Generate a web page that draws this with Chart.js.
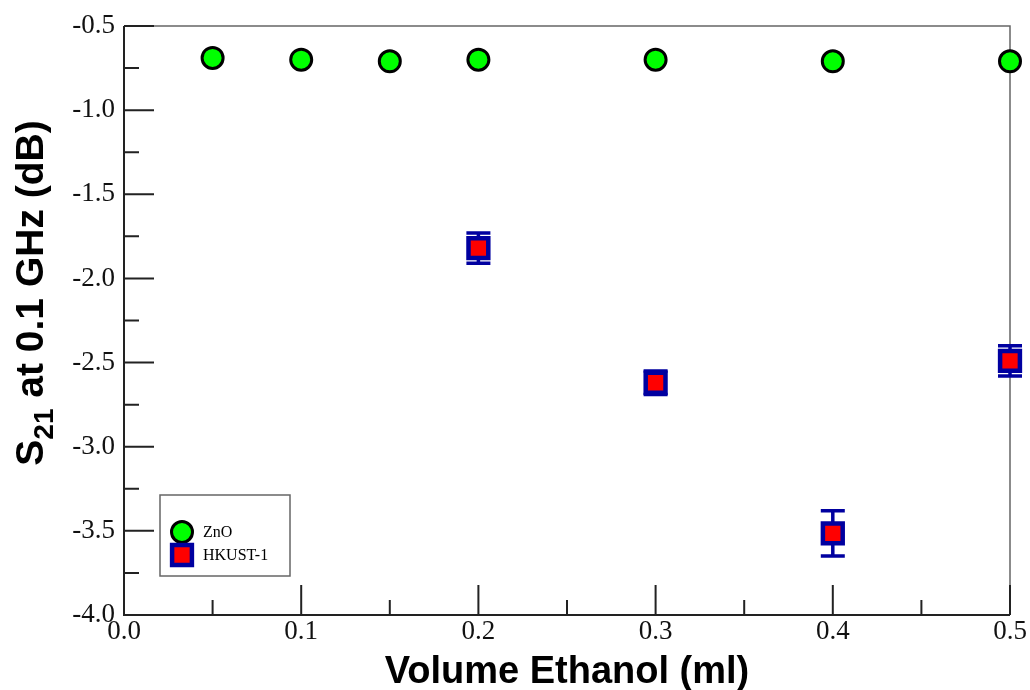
<!DOCTYPE html>
<html><head><meta charset="utf-8">
<script src="https://cdn.jsdelivr.net/npm/chart.js@4/dist/chart.umd.min.js"></script>
<style>html,body{margin:0;padding:0;background:#fff}#wrap{width:1030px;height:690px}</style>
</head><body><div id="wrap"><canvas id="c" width="1030" height="690"></canvas></div>
<script>
const znoX = [0.05, 0.1, 0.15, 0.2, 0.3, 0.4, 0.5];
const znoY = [-0.69, -0.70, -0.71, -0.70, -0.70, -0.71, -0.71];
const hkustX = [0.2, 0.3, 0.4, 0.5];
const hkustY = [-1.82, -2.62, -3.515, -2.49];
const hkustErr = [0.09, 0.07, 0.134, 0.09];
const seriesNames = ['ZnO', 'HKUST-1'];
const xTickValues = [0, 0.1, 0.2, 0.3, 0.4, 0.5];
const xTickLabels = ['0.0', '0.1', '0.2', '0.3', '0.4', '0.5'];
const xMinorTicks = [0.05, 0.15, 0.25, 0.35, 0.45];
const yTickValues = [-4, -3.5, -3, -2.5, -2, -1.5, -1, -0.5];
const yTickLabels = ['-4.0', '-3.5', '-3.0', '-2.5', '-2.0', '-1.5', '-1.0', '-0.5'];
const yMinorTicks = [-3.75, -3.25, -2.75, -2.25, -1.75, -1.25, -0.75];
const xTitle = 'Volume Ethanol (ml)';
const yTitleParts = ['S', '21', ' at 0.1 GHz (dB)'];

const SANS = '"Liberation Sans", Arial, sans-serif';
const SERIF = '"Liberation Serif", "Times New Roman", serif';

const znoData = znoX.map((x, i) => ({x: x, y: znoY[i]}));
const hkustData = hkustX.map((x, i) => ({x: x, y: hkustY[i]}));

const framePlugin = {
  id: 'frameTicks',
  beforeDatasetsDraw(chart) {
    const {ctx, chartArea: a, scales: {x, y}} = chart;
    ctx.save();
    ctx.strokeStyle = '#666'; ctx.lineWidth = 1.5;
    ctx.beginPath();
    ctx.moveTo(a.left, a.top); ctx.lineTo(a.right, a.top); ctx.lineTo(a.right, a.bottom);
    ctx.stroke();
    ctx.strokeStyle = '#222'; ctx.lineWidth = 2;
    ctx.beginPath();
    ctx.moveTo(a.left, a.top); ctx.lineTo(a.left, a.bottom); ctx.lineTo(a.right, a.bottom);
    ctx.stroke();
    ctx.beginPath();
    xTickValues.forEach(v => { const p = x.getPixelForValue(v); ctx.moveTo(p, a.bottom); ctx.lineTo(p, a.bottom - 30); });
    xMinorTicks.forEach(v => { const p = x.getPixelForValue(v); ctx.moveTo(p, a.bottom); ctx.lineTo(p, a.bottom - 15); });
    yTickValues.forEach(v => { const p = y.getPixelForValue(v); ctx.moveTo(a.left, p); ctx.lineTo(a.left + 30, p); });
    yMinorTicks.forEach(v => { const p = y.getPixelForValue(v); ctx.moveTo(a.left, p); ctx.lineTo(a.left + 15, p); });
    ctx.stroke();
    const ds = chart.data.datasets[1];
    ctx.strokeStyle = ds.borderColor; ctx.lineWidth = 3.5;
    ctx.beginPath();
    ds.data.forEach((pt, i) => {
      const e = ds.errors[i];
      const px = x.getPixelForValue(pt.x);
      const t = y.getPixelForValue(pt.y + e), b = y.getPixelForValue(pt.y - e);
      ctx.moveTo(px, t); ctx.lineTo(px, b);
      ctx.moveTo(px - 12, t); ctx.lineTo(px + 12, t);
      ctx.moveTo(px - 12, b); ctx.lineTo(px + 12, b);
    });
    ctx.stroke();
    ctx.restore();
  },
  afterDraw(chart) {
    const {ctx, chartArea: a} = chart;
    ctx.save();
    ctx.fillStyle = '#000';
    ctx.font = 'bold 38px ' + SANS;
    ctx.textAlign = 'center'; ctx.textBaseline = 'alphabetic';
    ctx.fillText(xTitle, (a.left + a.right) / 2, 683);
    ctx.translate(43, 293); ctx.rotate(-Math.PI / 2);
    ctx.textAlign = 'left';
    ctx.font = 'bold 39px ' + SANS; const w0 = ctx.measureText(yTitleParts[0]).width;
    const w2 = ctx.measureText(yTitleParts[2]).width;
    ctx.font = 'bold 28px ' + SANS; const w1 = ctx.measureText(yTitleParts[1]).width;
    let sx = -(w0 + w1 + w2) / 2;
    ctx.font = 'bold 39px ' + SANS; ctx.fillText(yTitleParts[0], sx, 0);
    ctx.font = 'bold 28px ' + SANS; ctx.fillText(yTitleParts[1], sx + w0, 10);
    ctx.font = 'bold 39px ' + SANS; ctx.fillText(yTitleParts[2], sx + w0 + w1, 0);
    ctx.restore();
    ctx.save();
    ctx.fillStyle = '#fff';
    ctx.fillRect(160, 495, 130, 81);
    ctx.strokeStyle = '#666'; ctx.lineWidth = 1.5;
    ctx.strokeRect(160, 495, 130, 81);
    const rows = [532, 555];
    chart.data.datasets.forEach((ds, i) => {
      const opts = {pointStyle: ds.pointStyle, radius: ds.pointRadius, borderWidth: ds.borderWidth, rotation: 0};
      ctx.fillStyle = ds.backgroundColor; ctx.strokeStyle = ds.borderColor; ctx.lineWidth = ds.borderWidth;
      Chart.helpers.drawPoint(ctx, opts, 182, rows[i]);
      ctx.fillStyle = '#000';
      ctx.font = '16px ' + SERIF;
      ctx.textAlign = 'left'; ctx.textBaseline = 'middle';
      ctx.fillText(ds.label, 203, rows[i] + 1);
    });
    ctx.restore();
  }
};

new Chart(document.getElementById('c'), {
  type: 'scatter',
  data: {
    datasets: [
      {label: seriesNames[0], data: znoData, pointStyle: 'circle', pointRadius: 10.5,
       backgroundColor: '#00ff00', borderColor: '#000000', borderWidth: 3, clip: false},
      {label: seriesNames[1], data: hkustData, errors: hkustErr, pointStyle: 'rect', pointRadius: 14,
       backgroundColor: '#ff0000', borderColor: '#0000a0', borderWidth: 4.5, clip: false}
    ]
  },
  options: {
    responsive: false, animation: false, events: [], devicePixelRatio: 1,
    layout: {padding: {left: 0, right: 20, top: 26, bottom: 0}},
    plugins: {legend: {display: false}, tooltip: {enabled: false}},
    scales: {
      x: {
        type: 'linear', min: 0, max: 0.5,
        afterBuildTicks: s => { s.ticks = xTickValues.map(v => ({value: v})); },
        afterFit: s => { s.height = 75; },
        grid: {display: false, drawTicks: false}, border: {display: false},
        ticks: {padding: 1, color: '#111', font: {family: SERIF, size: 27},
          callback: (v) => { const i = xTickValues.findIndex(t => Math.abs(t - v) < 1e-9); return i >= 0 ? xTickLabels[i] : ''; },
          maxRotation: 0, autoSkip: false}
      },
      y: {
        type: 'linear', min: -4, max: -0.5,
        afterBuildTicks: s => { s.ticks = yTickValues.map(v => ({value: v})); },
        afterFit: s => { s.width = 124; },
        grid: {display: false, drawTicks: false}, border: {display: false},
        ticks: {padding: 9, color: '#111', font: {family: SERIF, size: 27},
          callback: (v) => { const i = yTickValues.findIndex(t => Math.abs(t - v) < 1e-9); return i >= 0 ? yTickLabels[i] : ''; },
          autoSkip: false}
      }
    }
  },
  plugins: [framePlugin]
});
</script></body></html>
